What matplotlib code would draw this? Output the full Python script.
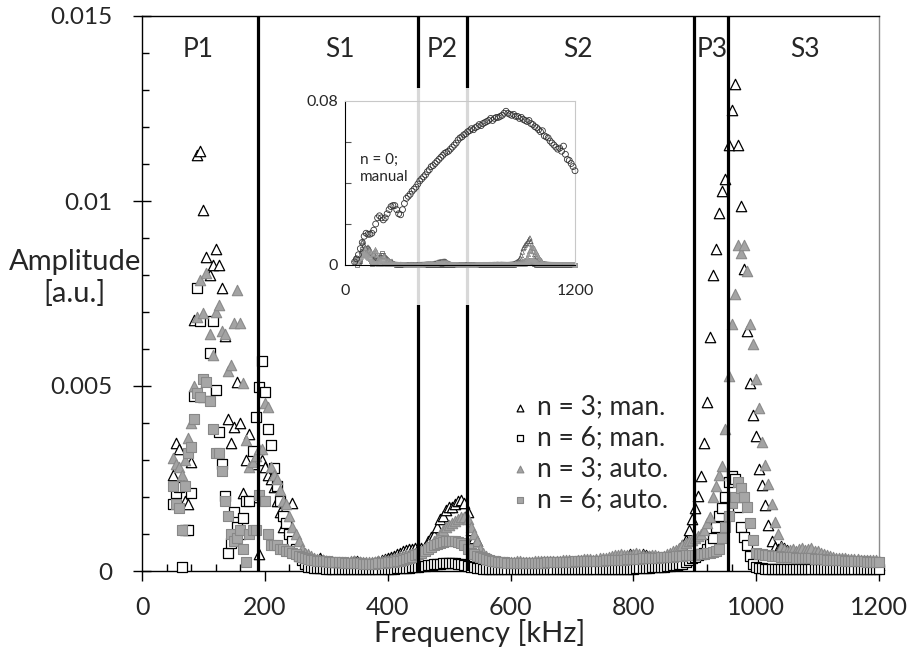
import numpy as np
import matplotlib
matplotlib.use("Agg")
import matplotlib.pyplot as plt
from matplotlib.ticker import MultipleLocator, FixedLocator

plt.rcParams['font.family'] = ['Lato', 'DejaVu Sans']

# ---------------- data ----------------
# frequency grid of the main series [kHz]
freq = np.arange(50, 1201, 5)

# amplitudes in units of 1e-5 a.u.
amp_n3_man = np.array([
    260, 347, 330, 240, 190, 180, 295, 678, 1124, 1136, 976, 850, 800, 827, 870, 827, 766, 635, 410, 346,
    390, 510, 400, 210, 300, 370, 290, 200, 46, 300, 280, 260, 250, 226, 190, 160, 120, 146, 110, 183,
    90, 70, 55, 45, 40, 35, 30, 28, 35, 30, 27, 25, 24, 22, 22, 20, 20, 22, 25, 28,
    26, 24, 22, 20, 20, 22, 25, 28, 30, 33, 35, 38, 40, 45, 50, 55, 58, 60, 60, 62,
    60, 62, 66, 80, 93, 97, 120, 140, 150, 165, 172, 172, 180, 188, 192, 185, 160, 110, 90, 80,
    50, 30, 25, 22, 20, 20, 18, 18, 20, 22, 20, 18, 16, 16, 18, 20, 22, 20, 18, 18,
    18, 20, 22, 22, 20, 18, 18, 20, 22, 24, 25, 24, 22, 22, 24, 26, 25, 24, 25, 27,
    28, 30, 30, 28, 32, 35, 38, 36, 40, 45, 42, 38, 40, 45, 42, 40, 38, 36, 34, 32,
    34, 36, 42, 48, 52, 60, 70, 85, 110, 140, 170, 204, 257, 347, 458, 633, 800, 870, 967, 1028,
    1060, 1151, 1246, 1316, 1151, 987, 815, 650, 507, 422, 365, 275, 232, 178, 124, 80, 65, 60, 68, 62,
    58, 50, 45, 40, 35, 32, 30, 30, 28, 28, 26, 25, 25, 24, 24, 22, 22, 22, 20, 20,
    20, 20, 18, 18, 18, 17, 17, 16, 16, 15, 15]) * 1e-5

amp_n6_man = np.array([
    180, 210, 226, 12, 110, 110, 210, 474, 766, 677, 470, 487, 590, 677, 490, 377, 289, 204, 48, 75,
    160, 120, 100, 143, 190, 190, 325, 415, 498, 568, 485, 383, 340, 278, 230, 190, 150, 130, 100, 80,
    60, 40, 30, 20, 12, 10, 8, 8, 7, 7, 6, 6, 6, 5, 5, 5, 5, 5, 5, 5,
    5, 5, 5, 5, 5, 5, 5, 5, 5, 5, 6, 6, 6, 7, 7, 8, 8, 9, 10, 11,
    12, 13, 14, 15, 16, 18, 19, 20, 21, 22, 22, 22, 21, 20, 18, 16, 14, 12, 10, 9,
    8, 6, 5, 5, 5, 5, 5, 5, 5, 5, 5, 5, 5, 5, 5, 5, 5, 5, 5, 5,
    5, 5, 5, 5, 5, 5, 5, 5, 5, 5, 5, 5, 5, 5, 5, 5, 5, 5, 5, 5,
    5, 5, 5, 5, 5, 5, 5, 5, 6, 6, 6, 7, 7, 8, 8, 9, 10, 10, 11, 12,
    12, 13, 14, 15, 16, 18, 20, 25, 30, 35, 38, 42, 45, 50, 60, 72, 90, 120, 150, 170,
    200, 240, 257, 250, 174, 118, 93, 70, 40, 20, 10, 8, 7, 6, 6, 6, 5, 5, 5, 5,
    5, 5, 5, 5, 5, 5, 5, 5, 5, 5, 5, 5, 5, 5, 5, 5, 5, 5, 5, 5,
    5, 5, 5, 5, 5, 5, 5, 5, 5, 5, 5]) * 1e-5

amp_n3_auto = np.array([
    305, 290, 282, 260, 300, 359, 400, 500, 687, 786, 698, 805, 640, 584, 700, 720, 650, 640, 540, 557,
    670, 760, 670, 507, 354, 280, 295, 310, 330, 330, 453, 444, 280, 260, 250, 220, 190, 180, 150, 120,
    100, 80, 60, 50, 45, 40, 35, 32, 30, 30, 28, 28, 26, 25, 25, 24, 24, 25, 26, 26,
    25, 24, 24, 23, 23, 24, 25, 26, 28, 30, 30, 32, 34, 36, 38, 40, 42, 44, 46, 48,
    50, 55, 60, 65, 70, 80, 90, 100, 110, 120, 125, 130, 135, 140, 147, 145, 140, 120, 100, 80,
    60, 50, 40, 35, 30, 28, 26, 25, 25, 24, 24, 25, 26, 26, 25, 24, 24, 25, 26, 27,
    28, 28, 27, 26, 26, 27, 28, 30, 30, 29, 28, 28, 29, 30, 32, 33, 32, 31, 32, 34,
    35, 36, 38, 40, 42, 44, 45, 44, 42, 44, 46, 48, 45, 42, 40, 40, 42, 44, 40, 38,
    40, 45, 50, 55, 58, 62, 70, 75, 80, 85, 90, 95, 100, 110, 130, 147, 200, 230, 260, 284,
    384, 527, 668, 750, 880, 860, 880, 810, 667, 613, 520, 440, 350, 286, 235, 180, 133, 100, 65, 60,
    55, 58, 60, 55, 60, 62, 58, 60, 62, 55, 55, 50, 45, 42, 40, 38, 36, 35, 34, 34,
    33, 33, 32, 32, 31, 30, 30, 30, 29, 29, 28]) * 1e-5

amp_n6_auto = np.array([
    230, 180, 170, 110, 230, 320, 335, 410, 480, 470, 520, 510, 460, 385, 320, 320, 270, 190, 150, 100,
    80, 90, 110, 60, 25, 100, 110, 110, 205, 190, 190, 100, 70, 70, 70, 60, 60, 55, 55, 50,
    45, 40, 38, 35, 32, 30, 30, 28, 28, 27, 26, 25, 25, 24, 24, 23, 22, 22, 22, 22,
    21, 21, 20, 20, 20, 20, 20, 21, 22, 22, 23, 24, 25, 26, 28, 30, 32, 35, 38, 42,
    45, 50, 55, 60, 65, 70, 72, 75, 78, 80, 82, 82, 80, 78, 75, 70, 60, 50, 45, 40,
    38, 35, 32, 30, 28, 26, 25, 24, 23, 22, 22, 22, 22, 22, 22, 22, 22, 22, 22, 22,
    22, 22, 23, 23, 23, 24, 24, 24, 25, 25, 25, 26, 26, 26, 27, 27, 27, 28, 28, 28,
    28, 29, 29, 30, 30, 30, 31, 31, 32, 32, 32, 33, 33, 34, 34, 35, 35, 36, 36, 37,
    37, 38, 38, 39, 40, 40, 41, 42, 42, 43, 44, 45, 45, 46, 48, 50, 52, 55, 60, 90,
    120, 150, 183, 200, 240, 223, 200, 174, 129, 84, 50, 45, 45, 42, 42, 40, 40, 40, 38, 38,
    38, 37, 37, 36, 36, 35, 35, 34, 34, 33, 33, 32, 32, 31, 31, 30, 30, 29, 29, 28,
    28, 28, 27, 27, 26, 26, 25, 25, 25, 24, 24]) * 1e-5

# inset: n = 0, manual (units 1e-3)
freq_n0 = np.arange(50, 1201, 10)
amp_n0_man = np.array([
    1.5, 3, 5, 8, 11, 14, 15.5, 15, 15, 15.5, 17, 20, 23, 24, 23, 22, 23, 25, 27, 28.5,
    29, 29, 27, 25, 24.5, 27, 30, 32.5, 33.5, 34.5, 36, 37, 38, 39.5, 41, 42, 43, 44, 45.5, 46.5,
    48, 48.5, 49.5, 50.5, 51.5, 52.5, 53.5, 54.5, 55, 55.5, 56.5, 57.5, 58.5, 59.5, 61, 62, 62.5, 63.5, 64, 65,
    65.5, 66.5, 66, 67, 67.5, 68.5, 68, 69, 69.5, 70, 70.5, 71.5, 70.5, 71.5, 72, 72, 72.5, 73, 74, 75,
    74, 73.5, 73, 73.5, 72.5, 72.5, 71.5, 72, 71, 70.5, 70, 70.5, 69, 68.5, 67.5, 67, 66, 65, 65.5, 63,
    62.5, 62, 60.5, 59.5, 58.5, 57.5, 56.5, 57, 55.5, 58, 54, 51.5, 51, 49.5, 48, 46]) * 1e-3

boundaries = [189, 449, 529, 899, 954]
region_names = ['P1', 'S1', 'P2', 'S2', 'P3', 'S3']
region_x = [91, 322, 488, 710, 928, 1080]

legend_labels = ['n = 3; man.', 'n = 6; man.', 'n = 3; auto.', 'n = 6; auto.']

# ---------------- figure ----------------
W, H = 912, 655
fig = plt.figure(figsize=(W / 100, H / 100), dpi=100)

def fx(px):
    return px / W

def fy(py):
    return 1 - py / H

txt = '#262626'
ax = fig.add_axes([fx(142), fy(571), fx(879) - fx(142), fy(16) - fy(571)])
ax.set_xlim(0, 1200)
ax.set_ylim(0, 0.015)

styles = [
    dict(marker='^', s=56, facecolors='white', edgecolors='black', linewidths=0.9),
    dict(marker='s', s=42, facecolors='white', edgecolors='black', linewidths=0.9),
    dict(marker='^', s=56, facecolors='#a3a3a3', edgecolors='#8a8a8a', linewidths=0.8),
    dict(marker='s', s=42, facecolors='#a6a6a6', edgecolors='#888888', linewidths=0.8),
]
series = [amp_n3_man, amp_n6_man, amp_n3_auto, amp_n6_auto]
handles = []
for vals, st, lab in zip(series, styles, legend_labels):
    h = ax.scatter(freq, vals, label=lab, zorder=3, clip_on=False, **st)
    handles.append(h)

for b in boundaries:
    ax.axvline(b, color='black', lw=2.3, zorder=4)

for name, xr in zip(region_names, region_x):
    ax.text(xr, 0.0141, name, ha='center', va='center', fontsize=19, color=txt)

# spines
ax.spines['top'].set_color('black')
ax.spines['right'].set_color('#8c8c8c')
for s in ['left', 'bottom']:
    ax.spines[s].set_color('black')
for s in ax.spines.values():
    s.set_linewidth(1.0)

ax.xaxis.set_major_locator(MultipleLocator(200))
ax.xaxis.set_minor_locator(MultipleLocator(40))
ax.yaxis.set_minor_locator(MultipleLocator(0.001))
ax.set_yticks([0, 0.005, 0.01, 0.015])
ax.set_yticklabels(['0', '0.005', '0.01', '0.015'], ha='right')
ax.tick_params(axis='y', which='major', direction='inout', length=13, width=1,
               labelsize=17.5, pad=15, labelcolor=txt)
ax.tick_params(axis='y', which='minor', direction='in', length=5, width=1)
ax.tick_params(axis='x', which='major', direction='out', length=7, width=1,
               labelsize=18, pad=11, labelcolor=txt)
ax.tick_params(axis='x', which='minor', direction='in', length=5, width=1)

fig.text(fx(480), fy(633), 'Frequency [kHz]', ha='center', va='center', fontsize=21, color=txt)
fig.text(fx(75), fy(278), 'Amplitude\n[a.u.]', ha='center', va='center', fontsize=21,
         color=txt, linespacing=1.25)

leg = ax.legend(handles=handles, loc='upper left', bbox_to_anchor=(fx(496), fy(384)),
                bbox_transform=fig.transFigure, frameon=False, fontsize=19,
                markerscale=0.65, handletextpad=0.15, labelspacing=0.22,
                borderaxespad=0, handlelength=1.0)
for t in leg.get_texts():
    t.set_color(txt)

# translucent backdrop of the inset
bg = fig.add_axes([fx(300), fy(305), fx(595) - fx(300), fy(88) - fy(305)])
bg.set_facecolor((1, 1, 1, 0.85))
bg.set_xticks([])
bg.set_yticks([])
for s in bg.spines.values():
    s.set_visible(False)

# inset
ins = fig.add_axes([fx(345), fy(265), fx(575) - fx(345), fy(101) - fy(265)])
ins.patch.set_alpha(0)
ins.set_xlim(0, 1200)
ins.set_ylim(0, 0.08)
ins.scatter(freq_n0, amp_n0_man, marker='o', s=18, facecolors='none',
            edgecolors='#333333', linewidths=0.6, zorder=3, clip_on=False)
small = [
    dict(marker='^', s=10, facecolors='none', edgecolors='#555555', linewidths=0.5),
    dict(marker='s', s=8, facecolors='none', edgecolors='#555555', linewidths=0.5),
    dict(marker='^', s=10, facecolors='#a3a3a3', edgecolors='#8a8a8a', linewidths=0.4),
    dict(marker='s', s=8, facecolors='#a8a8a8', edgecolors='#969696', linewidths=0.4),
]
for vals, st in zip(series, small):
    ins.scatter(freq, vals, zorder=2, clip_on=False, **st)
ins.set_xticks([0, 1200])
ins.set_xticklabels(['0', '1200'])
ins.set_yticks([0, 0.08])
ins.set_yticklabels(['0', '0.08'], ha='right')
ins.yaxis.set_minor_locator(FixedLocator([0.02, 0.04, 0.06]))
ins.tick_params(axis='y', which='major', length=0, labelsize=11.5, labelcolor=txt, pad=5)
ins.tick_params(axis='x', which='major', length=0, labelsize=11.5, labelcolor=txt, pad=14)
ins.tick_params(axis='y', which='minor', direction='in', length=4, width=0.8, color='#555555')
ins.spines['top'].set_color('#c8c8c8')
ins.spines['right'].set_color('#c8c8c8')
ins.spines['left'].set_color('black')
ins.spines['bottom'].set_color('black')
for s in ins.spines.values():
    s.set_linewidth(0.8)
ins.text(80, 0.047, 'n = 0;\nmanual', fontsize=11, color=txt, va='center', linespacing=1.3)

fig.savefig('out.png', dpi=100)
